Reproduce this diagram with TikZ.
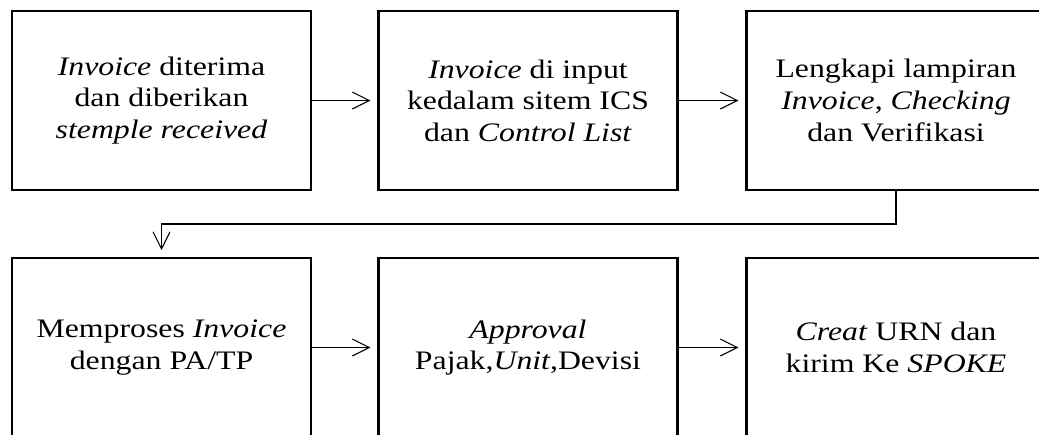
\documentclass[tikz,border=0pt]{standalone}
\usepackage{fontspec}
\setmainfont[FakeStretch=1.19]{Liberation Serif}
\usetikzlibrary{arrows.meta}

\begin{document}
\begin{tikzpicture}[>={Straight Barb[length=3.4mm,width=3.4mm]},
   box/.style={draw,line width=1.15pt,minimum width=5.98cm,minimum height=3.58cm,
   align=center,font=\fontsize{15.2}{18}\selectfont}]

\tikzstyle {edge} = [->, line width=0.6pt, shorten >=1.4mm];

\useasboundingbox (0,0) rectangle (20.78,-8.68);
\clip (0,0) rectangle (20.78,-8.68);

\node[box] (rcv) at (3.23,-2.01){\textit{Invoice} diterima\\dan diberikan\\\textit{stemple received}};
\node[box] (inp) at (10.56,-2.01){\textit{Invoice} di input\\kedalam sitem ICS\\dan \textit{Control List}};
\node[box] (chk) at (17.92,-2.01){Lengkapi lampiran\\\textit{Invoice}, \textit{Checking}\\dan Verifikasi};
\node[box] (proc) at (3.23,-6.95){Memproses \textit{Invoice}\\dengan PA/TP};
\node[box] (appr) at (10.56,-6.95){\textit{Approval}\\Pajak,\textit{Unit},Devisi};
\node[box] (urn) at (17.92,-6.95){\textit{Creat} URN dan\\kirim Ke \textit{SPOKE}};

\coordinate (turn) at (17.92,-4.48);

\path (rcv) edge [edge] (inp);
\path (inp) edge [edge] (chk);
\draw [edge] (chk.south) -- (turn) -| (proc.north);
\path (proc) edge [edge] (appr);
\path (appr) edge [edge] (urn);

\end{tikzpicture}
\end{document}
